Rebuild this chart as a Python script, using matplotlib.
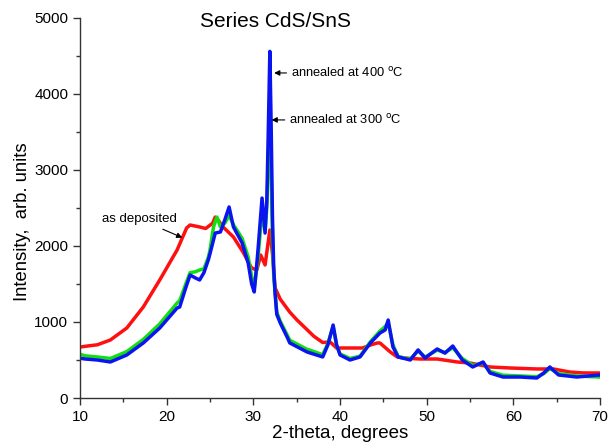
import matplotlib
matplotlib.use("Agg")
import matplotlib.pyplot as plt
from matplotlib.ticker import MultipleLocator

plt.rcParams['font.family'] = ['Liberation Sans', 'DejaVu Sans']

# as deposited (red)
red_x = [10, 10.6, 12, 13.5, 15.4, 17.3, 19.2, 21.2, 22.3, 22.7, 23.8, 24.5, 25.3, 25.6, 26.0, 26.5,
         27.7, 28.8, 29.8, 30.4, 30.85, 31.35, 31.9, 32.2, 32.5, 33.1, 34.2, 35.0, 36.0, 37.0, 38.0,
         38.85, 39.6, 40.35, 42.6, 43.5, 44.3, 44.6, 45.8, 46.6, 47.5, 49.2, 51.2, 53.5, 55.0, 57.3,
         59.6, 62.7, 64.6, 66.5, 68, 70]
red_y = [670, 680, 700, 763, 921, 1197, 1553, 1947, 2237, 2276, 2250, 2230, 2300, 2380, 2330, 2250,
         2118, 1921, 1710, 1684, 1880, 1750, 2210, 1900, 1450, 1300, 1130, 1030, 920, 810, 730,
         737, 658, 658, 658, 697, 724, 724, 605, 540, 525, 513, 513, 474, 460, 408,
         395, 382, 382, 342, 330, 329]

# annealed at 300 C (green)
green_x = [10, 10.6, 12, 13.5, 15.4, 17.3, 19.2, 21.2, 21.5, 22.2, 22.7, 23.3, 23.8, 24.3, 24.8, 25.0,
           25.4, 25.8, 26.2, 26.7, 27.2, 27.7, 28.7, 29.4, 29.8, 30.1, 30.5, 31.0, 31.35, 31.55, 31.7,
           31.9, 32.05, 32.2, 32.35, 32.5, 32.7, 33.1, 33.9, 34.2, 36.2, 36.5, 38.0, 38.6, 39.2, 39.6,
           40.0, 41.15, 42.3, 43.5, 44.6, 45.2, 45.55, 46.1, 46.7, 48.1, 49.0, 49.8, 50.0, 51.2, 52.1,
           53.0, 54.1, 55.3, 56.5, 57.3, 58.8, 60.8, 62.7, 63.5, 64.2, 65.2, 67.3, 70]
green_y = [575, 555, 540, 520, 610, 770, 975, 1250, 1280, 1500, 1650, 1660, 1684, 1700, 1850, 1950,
           2250, 2380, 2250, 2300, 2400, 2280, 2100, 1855, 1600, 1450, 1800, 2450, 2200, 2500, 3000,
           3850, 3000, 2100, 1600, 1400, 1130, 1010, 830, 760, 640, 630, 570, 720, 940, 690,
           580, 520, 550, 740, 880, 940, 990, 700, 545, 510, 620, 540, 550, 630, 600,
           660, 520, 430, 460, 350, 300, 290, 280, 320, 390, 320, 290, 275]

# annealed at 400 C (blue)
blue_x = [10, 10.6, 12, 13.5, 15.4, 17.3, 19.2, 21.2, 21.5, 22.2, 22.7, 23.3, 23.8, 24.3, 24.8, 25.0,
          25.6, 26.2, 26.7, 27.2, 27.7, 28.7, 29.4, 29.8, 30.1, 30.5, 31.0, 31.35, 31.55, 31.7, 31.9,
          32.05, 32.2, 32.35, 32.5, 32.7, 33.1, 33.9, 34.2, 36.2, 38.0, 38.6, 39.2, 39.6, 40.0, 41.15,
          42.3, 43.5, 44.6, 45.2, 45.55, 46.1, 46.7, 48.1, 49.0, 49.8, 51.2, 52.1, 53.0, 54.1, 55.3,
          56.5, 57.3, 58.8, 60.8, 62.7, 63.5, 64.2, 65.2, 67.3, 70]
blue_y = [523, 513, 500, 474, 566, 724, 921, 1184, 1197, 1450, 1618, 1580, 1553, 1650, 1816, 1900,
          2170, 2184, 2342, 2513, 2250, 2040, 1776, 1500, 1395, 1900, 2630, 2170, 2600, 3400, 4560,
          3600, 2400, 1700, 1380, 1100, 987, 800, 724, 605, 540, 700, 960, 700, 566, 500,
          540, 724, 855, 895, 1026, 671, 540, 500, 632, 526, 645, 590, 684, 500, 408,
          474, 329, 276, 276, 263, 330, 408, 303, 276, 303]

fig = plt.figure(figsize=(6.13, 4.48), dpi=100)
ax = fig.add_axes([0.1305, 0.1116, 0.8485, 0.8484])

ax.plot(red_x, red_y, color='#ff1010', lw=2.5, solid_joinstyle='round')
ax.plot(green_x, green_y, color='#10e010', lw=2.5, solid_joinstyle='round')
ax.plot(blue_x, blue_y, color='#0a14f0', lw=2.5, solid_joinstyle='round')

ax.set_xlim(10, 70)
ax.set_ylim(0, 5000)
ax.xaxis.set_major_locator(MultipleLocator(10))
ax.xaxis.set_minor_locator(MultipleLocator(5))
ax.yaxis.set_major_locator(MultipleLocator(1000))
ax.yaxis.set_minor_locator(MultipleLocator(500))
for s in ['top', 'right']:
    ax.spines[s].set_visible(False)
for s in ['left', 'bottom']:
    ax.spines[s].set_color('#333333')
    ax.spines[s].set_linewidth(1.0)
ax.tick_params(which='major', direction='out', length=5, width=1, colors='#333333', labelsize=11,
               labelcolor='black')
ax.tick_params(which='minor', direction='out', length=3, width=1, colors='#333333')

ax.set_xlabel('2-theta, degrees', fontsize=13.5, labelpad=1)
ax.set_ylabel('Intensity,  arb. units', fontsize=13.3, labelpad=2, y=0.463)

ax.text(32.5, 4947, 'Series CdS/SnS', fontsize=15, ha='center', va='center')

ax.annotate('annealed at 400 $^{\\mathrm{o}}$C', xy=(32.4, 4276), xytext=(34.3, 4276),
            fontsize=9.3, va='center', ha='left',
            arrowprops=dict(arrowstyle='-|>', color='black', lw=0.8, mutation_scale=8,
                            shrinkA=1, shrinkB=0))
ax.annotate('annealed at 300 $^{\\mathrm{o}}$C', xy=(32.1, 3658), xytext=(34.1, 3658),
            fontsize=9.3, va='center', ha='left',
            arrowprops=dict(arrowstyle='-|>', color='black', lw=0.8, mutation_scale=8,
                            shrinkA=1, shrinkB=0))
ax.annotate('as deposited', xy=(21.8, 2110), xytext=(16.9, 2350),
            fontsize=9.5, va='center', ha='center',
            arrowprops=dict(arrowstyle='-|>', color='black', lw=0.8, mutation_scale=8,
                            shrinkA=2, shrinkB=0))

fig.savefig('out.png', dpi=100)
